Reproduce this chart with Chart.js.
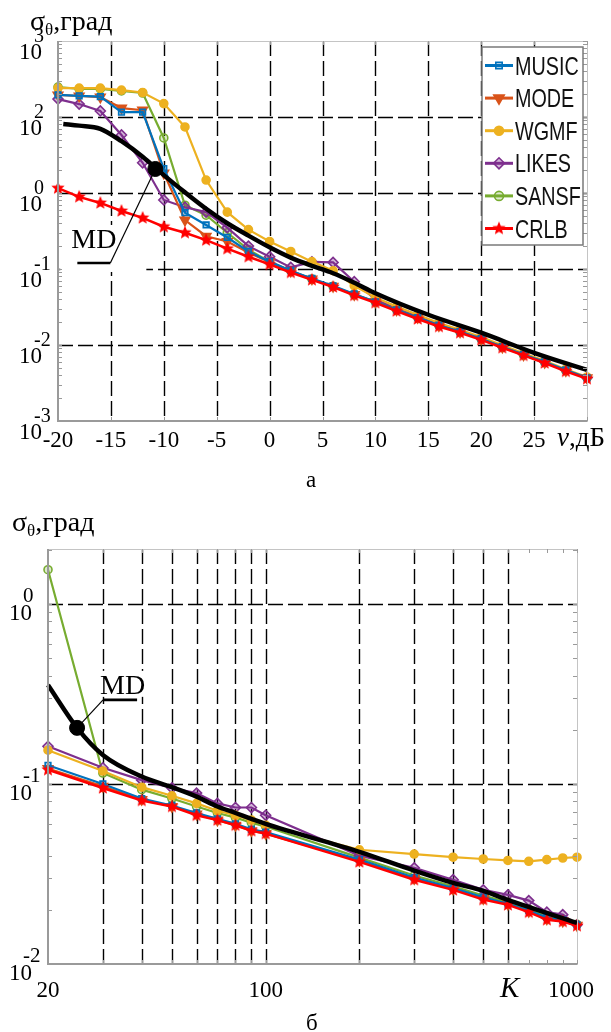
<!DOCTYPE html>
<html>
<head>
<meta charset="utf-8">
<script src="https://cdn.jsdelivr.net/npm/chart.js"></script>
<style>
html, body { margin: 0; padding: 0; background: #fff; width: 611px; height: 1032px; overflow: hidden; }
canvas { position: absolute; left: 0; }
#chartA { top: 0; }
#chartB { top: 500px; }
.lbl { position: absolute; font-family: "Liberation Serif", "Times New Roman", serif; white-space: nowrap; color: #000; }
.sub { position: relative; top: 5px; font-size: 17px; }
</style>
</head>
<body>
<canvas id="chartA" width="611" height="500"></canvas>
<canvas id="chartB" width="611" height="532"></canvas>

<div class="lbl" style="left:30px; top:7px; font-size:28px; line-height:28px;">σ<span class="sub">θ</span>,град</div>
<div class="lbl" style="left:557px; top:424px; font-size:27px; line-height:27px;"><i>ν</i>,дБ</div>
<div class="lbl" style="left:306px; top:468px; font-size:23px; line-height:23px;">а</div>

<div class="lbl" style="left:12px; top:508px; font-size:28px; line-height:28px;">σ<span class="sub">θ</span>,град</div>
<div class="lbl" style="left:500px; top:973px; font-size:29px; line-height:29px;"><i>K</i></div>
<div class="lbl" style="left:306px; top:1011px; font-size:23px; line-height:23px;">б</div>

<script>
// ---- chart (a): error vs SNR ----
const snrDb = [-20, -18, -16, -14, -12, -10, -8, -6, -4, -2, 0, 2, 4, 6, 8, 10, 12, 14, 16, 18, 20, 22, 24, 26, 28, 30];
const musicA = [19.5, 19.0, 18.5, 11.6, 11.6, 2.1, 0.55, 0.38, 0.26, 0.17, 0.125, 0.095, 0.075, 0.060, 0.047, 0.037, 0.029, 0.023, 0.0182, 0.0150, 0.0121, 0.0095, 0.0075, 0.0060, 0.0047, 0.0037];
const modeA = [19.5, 18.9, 18.3, 13.1, 12.3, 1.83, 0.44, 0.27, 0.23, 0.165, 0.123, 0.094, 0.074, 0.059, 0.046, 0.037, 0.029, 0.023, 0.0180, 0.0149, 0.0120, 0.0094, 0.0074, 0.0059, 0.0046, 0.0037];
const wgmfA = [24.0, 24.0, 24.0, 22.6, 21.0, 15.0, 7.4, 1.48, 0.56, 0.33, 0.23, 0.17, 0.125, 0.095, 0.060, 0.042, 0.032, 0.025, 0.0195, 0.0158, 0.0127, 0.0099, 0.0078, 0.0062, 0.0048, 0.0038];
const likesA = [17.2, 14.8, 12.0, 5.8, 2.5, 0.81, 0.65, 0.56, 0.35, 0.20, 0.145, 0.105, 0.124, 0.122, 0.068, 0.040, 0.030, 0.024, 0.0187, 0.0152, 0.0122, 0.0096, 0.0076, 0.0060, 0.0047, 0.0037];
const sansfA = [24.8, 23.4, 23.4, 22.0, 20.7, 5.3, 0.69, 0.51, 0.30, 0.18, 0.125, 0.095, 0.074, 0.059, 0.046, 0.037, 0.029, 0.023, 0.0181, 0.0148, 0.0120, 0.0094, 0.0074, 0.0059, 0.0046, 0.0037];
const crlbA = [1.16, 0.89, 0.74, 0.58, 0.47, 0.36, 0.30, 0.24, 0.185, 0.145, 0.115, 0.090, 0.072, 0.058, 0.045, 0.036, 0.028, 0.022, 0.0175, 0.0145, 0.0117, 0.0092, 0.0073, 0.0058, 0.0045, 0.0036];
const mdSnr = [-19.5, -18, -16, -14, -12, -10, -8, -6, -4, -2, 0, 2, 4, 6, 8, 10, 15, 20, 25, 30];
const mdA = [8.1, 7.7, 7.0, 4.8, 3.0, 1.72, 1.02, 0.62, 0.40, 0.275, 0.193, 0.141, 0.11, 0.088, 0.066, 0.048, 0.025, 0.0145, 0.0079, 0.0047];
const mdPointA = [-10.8, 2.07];

const aXTicks = [-20, -15, -10, -5, 0, 5, 10, 15, 20, 25];
const aXLabels = ["-20", "-15", "-10", "-5", "0", "5", "10", "15", "20", "25"];
const aXGrid = [-15, -10, -5, 0, 5, 10, 15, 20, 25];
const aYTicks = [0.001, 0.01, 0.1, 1, 10, 100];
const aYExp = ["-3", "-2", "-1", "0", "2", "3"];
const aYGrid = [0.01, 0.1, 1, 10];

// ---- chart (б): error vs number of snapshots ----
const samplesK = [20, 30, 40, 50, 60, 70, 80, 90, 100, 200, 300, 400, 500, 600, 700, 800, 900, 1000];
const musicB = [0.127, 0.100, 0.083, 0.076, 0.069, 0.064, 0.060, 0.056, 0.054, 0.038, 0.0302, 0.0264, 0.0235, 0.0216, 0.0198, 0.0181, 0.0175, 0.0165];
const modeB = [0.122, 0.097, 0.082, 0.075, 0.068, 0.063, 0.059, 0.055, 0.053, 0.0375, 0.0298, 0.0261, 0.0231, 0.0215, 0.0196, 0.0178, 0.0173, 0.0164];
const wgmfB = [0.154, 0.118, 0.096, 0.086, 0.078, 0.071, 0.067, 0.063, 0.059, 0.0431, 0.0408, 0.0392, 0.0383, 0.0376, 0.0372, 0.0380, 0.0388, 0.0392];
const likesB = [0.162, 0.123, 0.105, 0.095, 0.089, 0.078, 0.074, 0.074, 0.067, 0.040, 0.0342, 0.0294, 0.0258, 0.0242, 0.0225, 0.0194, 0.0188, 0.0165];
const sansfB = [1.55, 0.115, 0.093, 0.083, 0.075, 0.069, 0.065, 0.061, 0.058, 0.039, 0.031, 0.027, 0.0240, 0.0220, 0.0202, 0.0185, 0.0177, 0.0166];
const crlbB = [0.120, 0.095, 0.081, 0.075, 0.067, 0.063, 0.059, 0.055, 0.053, 0.0369, 0.0294, 0.0258, 0.0228, 0.0213, 0.0194, 0.0176, 0.0172, 0.0163];
const mdK = [20, 24.8, 30, 40, 50, 60, 70, 80, 90, 100, 200, 300, 400, 500, 600, 1000];
const mdB = [0.355, 0.205, 0.145, 0.11, 0.096, 0.085, 0.075, 0.069, 0.064, 0.060, 0.042, 0.033, 0.0282, 0.0255, 0.0227, 0.0169];
const mdPointB = [24.8, 0.205];

const bXTicks = [20, 100, 1000];
const bXLabels = ["20", "100", "1000"];
const bXGrid = [30, 40, 50, 60, 70, 80, 90, 100, 200, 300, 400, 500, 600];
const bYTicks = [0.01, 0.1, 1];
const bYExp = ["-2", "-1", "0"];
const bYGrid = [0.1, 1];

const legendNames = ["MUSIC", "MODE", "WGMF", "LIKES", "SANSF", "CRLB"];

const SERIF = '"Liberation Serif", "Times New Roman", serif';
const SANS = '"Liberation Sans", Arial, sans-serif';

// 星形マーカー
function starImage(r, color) {
    const c = document.createElement("canvas");
    c.width = c.height = 2 * r + 2;
    const g = c.getContext("2d");
    g.fillStyle = color;
    g.beginPath();
    for (let i = 0; i < 10; i++) {
        const ang = -Math.PI / 2 + i * Math.PI / 5;
        const rr = i % 2 ? r * 0.45 : r;
        g.lineTo(r + 1 + rr * Math.cos(ang), r + 1 + rr * Math.sin(ang));
    }
    g.closePath();
    g.fill();
    return c;
}

const styles = {
    MUSIC: { color: "#0072BD", pointStyle: "rect", radius: 4, fill: "rgba(0,114,189,0.35)", rotation: 0 },
    MODE:  { color: "#D95319", pointStyle: "triangle", radius: 5.5, fill: "#D95319", rotation: 180 },
    WGMF:  { color: "#EDB120", pointStyle: "circle", radius: 4, fill: "#EDB120", rotation: 0 },
    LIKES: { color: "#7E2F8E", pointStyle: "rectRot", radius: 5, fill: "rgba(126,47,142,0.35)", rotation: 0 },
    SANSF: { color: "#77AC30", pointStyle: "circle", radius: 4, fill: "rgba(119,172,48,0.25)", rotation: 0 },
    CRLB:  { color: "#FF0000", pointStyle: starImage(7, "#FF0000"), radius: 7, fill: "#FF0000", rotation: 0 }
};

function toXY(xs, ys) {
    return xs.map((v, i) => ({ x: v, y: ys[i] }));
}

function seriesSet(xs, series) {
    return legendNames.map((name, i) => {
        const s = styles[name];
        return {
            label: name,
            data: toXY(xs, series[i]),
            borderColor: s.color,
            backgroundColor: s.fill,
            borderWidth: name === "CRLB" ? 2.5 : 2.2,
            pointStyle: s.pointStyle,
            pointRotation: s.rotation,
            pointRadius: s.radius,
            pointBorderWidth: 1.6,
            pointBackgroundColor: s.fill,
            pointBorderColor: s.color,
            tension: 0,
            clip: false,
            order: name === "CRLB" ? 2 : 3 + i
        };
    });
}

function logMinor(min, max) {
    const out = [];
    for (let d = Math.floor(Math.log10(min)); d <= Math.ceil(Math.log10(max)); d++) {
        for (let m = 1; m < 10; m++) {
            const v = m * Math.pow(10, d);
            if (v >= min * 0.999 && v <= max * 1.001) out.push(v);
        }
    }
    return out;
}

function decorPlugin(cfg) {
    return {
        id: "decor",
        beforeDatasetsDraw(chart) {
            const { ctx, chartArea: a, scales: { x, y } } = chart;
            ctx.save();
            // 破線グリッド
            ctx.strokeStyle = "#000";
            ctx.lineWidth = 1.4;
            ctx.setLineDash([15, 5]);
            cfg.xGrid.forEach(v => {
                const px = Math.round(x.getPixelForValue(v)) + 0.5;
                ctx.beginPath(); ctx.moveTo(px, a.top); ctx.lineTo(px, a.bottom); ctx.stroke();
            });
            cfg.yGrid.forEach(v => {
                const py = Math.round(y.getPixelForValue(v)) + 0.5;
                ctx.beginPath(); ctx.moveTo(a.left, py); ctx.lineTo(a.right, py); ctx.stroke();
            });
            ctx.setLineDash([]);
            // MDラベルの背景
            const dx = x.getPixelForValue(cfg.md.point[0]);
            const dy = y.getPixelForValue(cfg.md.point[1]);
            const b = cfg.md.box;
            ctx.fillStyle = "#fff";
            ctx.fillRect(dx + b[0], dy + b[1], b[2], b[3]);
            ctx.restore();
        },
        afterDatasetsDraw(chart) {
            const { ctx, chartArea: a, scales: { x, y } } = chart;
            ctx.save();

            // MD注記
            const dx = x.getPixelForValue(cfg.md.point[0]);
            const dy = y.getPixelForValue(cfg.md.point[1]);
            const m = cfg.md;
            ctx.strokeStyle = "#000";
            ctx.lineWidth = 1.2;
            ctx.beginPath();
            ctx.moveTo(dx, dy);
            ctx.lineTo(dx + m.corner[0], dy + m.corner[1]);
            ctx.stroke();
            ctx.lineWidth = 2.6;
            ctx.beginPath();
            ctx.moveTo(dx + m.corner[0], dy + m.corner[1]);
            ctx.lineTo(dx + m.corner[0] + m.bar, dy + m.corner[1]);
            ctx.stroke();
            ctx.fillStyle = "#000";
            ctx.font = "28px " + SERIF;
            ctx.textAlign = "left";
            ctx.textBaseline = "alphabetic";
            ctx.fillText("MD", dx + m.text[0], dy + m.text[1]);

            // 枠
            ctx.strokeStyle = "#c4c4c4";
            ctx.lineWidth = 1;
            ctx.strokeRect(a.left + 0.5, a.top + 0.5, a.right - a.left, a.bottom - a.top);
            ctx.strokeStyle = "#9a9a9a";
            ctx.lineWidth = 2;
            ctx.beginPath();
            ctx.moveTo(a.left, a.top); ctx.lineTo(a.left, a.bottom); ctx.lineTo(a.right, a.bottom);
            ctx.stroke();

            // 目盛り
            ctx.lineWidth = 1;
            ctx.strokeStyle = "#9a9a9a";
            logMinor(y.min, y.max).forEach(v => {
                const py = Math.round(y.getPixelForValue(v)) + 0.5;
                ctx.beginPath();
                ctx.moveTo(a.left, py); ctx.lineTo(a.left + 4, py);
                ctx.moveTo(a.right, py); ctx.lineTo(a.right - 4, py);
                ctx.stroke();
            });
            const xt = cfg.xLog ? logMinor(x.min, x.max) : cfg.xTicks.concat([x.max]);
            xt.forEach(v => {
                const px = Math.round(x.getPixelForValue(v)) + 0.5;
                ctx.beginPath();
                ctx.moveTo(px, a.bottom); ctx.lineTo(px, a.bottom - 4);
                ctx.moveTo(px, a.top); ctx.lineTo(px, a.top + 4);
                ctx.stroke();
            });

            // 目盛りラベル
            ctx.fillStyle = "#000";
            ctx.font = cfg.tickFont + "px " + SERIF;
            ctx.textAlign = "center";
            cfg.xTicks.forEach((v, i) => {
                let px = x.getPixelForValue(v);
                const w = ctx.measureText(cfg.xLabels[i]).width;
                if (px + w / 2 > a.right + 17) px = a.right + 17 - w / 2;
                ctx.fillText(cfg.xLabels[i], px, a.bottom + cfg.xLabelDy);
            });
            cfg.yTicks.forEach((v, i) => {
                const py = y.getPixelForValue(v);
                ctx.textAlign = "right";
                ctx.font = cfg.tickFont + "px " + SERIF;
                ctx.fillText("10", a.left + cfg.baseRight, py + cfg.baseDy);
                ctx.textAlign = "left";
                ctx.font = cfg.expFont + "px " + SERIF;
                ctx.fillText(cfg.yExp[i], a.left + cfg.expLeft, py + cfg.expDy);
            });

            // 凡例
            const lg = cfg.legend;
            ctx.fillStyle = "#fff";
            ctx.fillRect(lg.x, lg.y, lg.w, lg.h);
            ctx.strokeStyle = "#7a7a7a";
            ctx.lineWidth = 1.5;
            ctx.strokeRect(lg.x, lg.y, lg.w, lg.h);
            legendNames.forEach((name, i) => {
                const s = styles[name];
                const cy = lg.y + lg.first + i * lg.step;
                const x0 = lg.x + 3;
                ctx.strokeStyle = s.color;
                ctx.lineWidth = 3;
                ctx.beginPath(); ctx.moveTo(x0, cy); ctx.lineTo(x0 + lg.sample, cy); ctx.stroke();
                ctx.fillStyle = s.fill;
                ctx.lineWidth = 1.6;
                Chart.helpers.drawPoint(ctx, {
                    pointStyle: s.pointStyle, rotation: s.rotation, radius: s.radius + 0.5, borderWidth: 1.6
                }, x0 + lg.sample / 2, cy);
                ctx.save();
                ctx.translate(x0 + lg.sample + 2, cy + lg.font * 0.36);
                ctx.scale(lg.sx, 1);
                ctx.fillStyle = "#111";
                ctx.font = lg.font + "px " + SANS;
                ctx.textAlign = "left";
                ctx.fillText(name, 0, 0);
                ctx.restore();
            });

            ctx.restore();
        }
    };
}

function makeChart(id, xs, series, mdXs, mdYs, mdPoint, xScale, yScale, padding, cfg) {
    const datasets = seriesSet(xs, series);
    datasets.push({
        label: "MD",
        data: toXY(mdXs, mdYs),
        borderColor: "#000",
        borderWidth: 4.5,
        pointRadius: 0,
        cubicInterpolationMode: "monotone",
        clip: false,
        order: 1
    });
    datasets.push({
        label: "MDpoint",
        data: [{ x: mdPoint[0], y: mdPoint[1] }],
        showLine: false,
        pointRadius: 7.5,
        pointBackgroundColor: "#000",
        pointBorderColor: "#000",
        clip: false,
        order: 0
    });
    cfg.md.point = mdPoint;
    return new Chart(document.getElementById(id), {
        type: "line",
        data: { datasets: datasets },
        options: {
            responsive: false,
            animation: false,
            devicePixelRatio: 1,
            events: [],
            layout: { padding: padding },
            scales: { x: xScale, y: yScale },
            plugins: { legend: { display: false }, tooltip: { enabled: false } }
        },
        plugins: [decorPlugin(cfg)]
    });
}

makeChart("chartA", snrDb, [musicA, modeA, wgmfA, likesA, sansfA, crlbA], mdSnr, mdA, mdPointA,
    { type: "linear", min: -20, max: 30, display: false },
    { type: "logarithmic", min: 0.001, max: 100, display: false },
    { left: 58, top: 41, right: 24, bottom: 79 },
    {
        xGrid: aXGrid, yGrid: aYGrid, xTicks: aXTicks, xLabels: aXLabels, yTicks: aYTicks, yExp: aYExp,
        xLog: false, tickFont: 23, expFont: 20, xLabelDy: 26,
        baseRight: -16, baseDy: 18, expLeft: -24, expDy: 1,
        md: { corner: [-45, 94], bar: -33, text: [-84, 79], box: [-95, 56, 86, 47] },
        legend: { x: 482, y: 47, w: 101, h: 198, first: 18.5, step: 32.6, sample: 28, font: 25, sx: 0.79 }
    });

makeChart("chartB", samplesK, [musicB, modeB, wgmfB, likesB, sansfB, crlbB], mdK, mdB, mdPointB,
    { type: "logarithmic", min: 20, max: 1000, display: false },
    { type: "logarithmic", min: 0.01, max: 2.02, display: false },
    { left: 48, top: 49, right: 34, bottom: 68 },
    {
        xGrid: bXGrid, yGrid: bYGrid, xTicks: bXTicks, xLabels: bXLabels, yTicks: bYTicks, yExp: bYExp,
        xLog: true, tickFont: 23, expFont: 21, xLabelDy: 33,
        baseRight: -16, baseDy: 16, expLeft: -25, expDy: -2,
        md: { corner: [26, -28], bar: 34, text: [23, -34], box: [22, -57, 50, 26] },
        legend: { x: 462, y: 553, w: 109, h: 212, first: 20, step: 34.4, sample: 30, font: 28, sx: 0.74 }
    });
</script>
</body>
</html>
